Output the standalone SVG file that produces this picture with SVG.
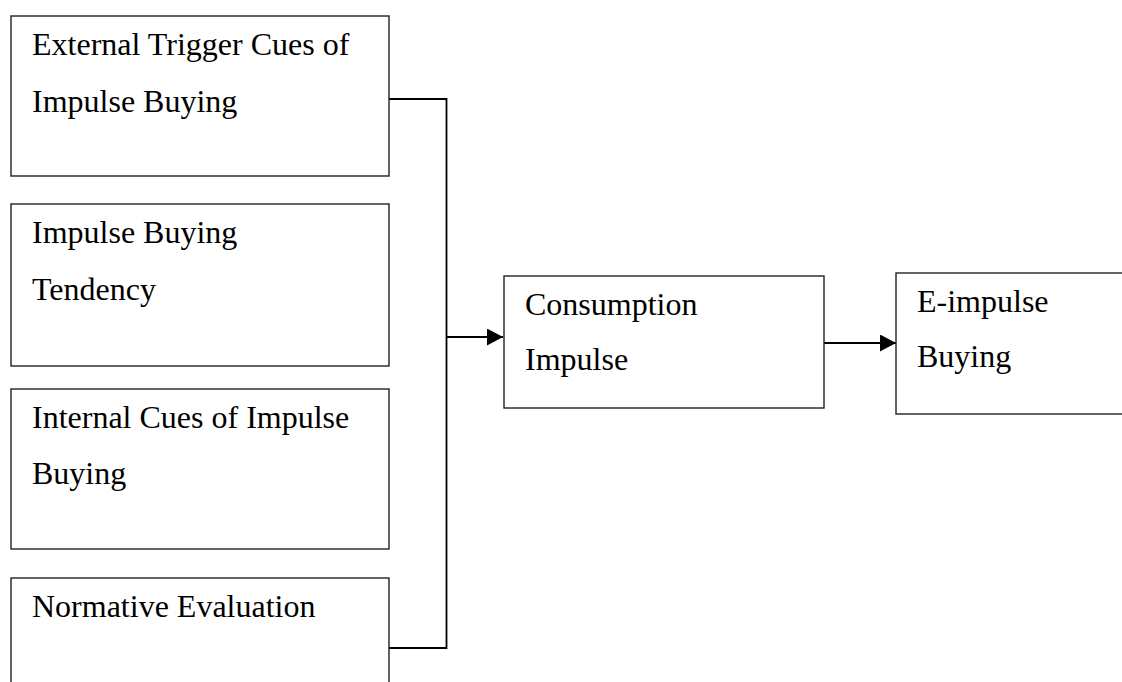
<svg xmlns="http://www.w3.org/2000/svg" width="1122" height="682" viewBox="0 0 1122 682">
<style>
.box{fill:#fff;stroke:#222;stroke-width:1.4}
.t{font-family:"Liberation Serif","Times New Roman",serif;font-size:32px;fill:#000}
.c{fill:none;stroke:#000;stroke-width:1.8}
</style>
<defs>
<marker id="ah" markerWidth="17" markerHeight="17" refX="16" refY="8.5" orient="auto" markerUnits="userSpaceOnUse">
<path d="M0,0 L16,8.5 L0,17 Z" fill="#000"/>
</marker>
</defs>
<rect width="1122" height="682" fill="#fff"/>
<g id="connectors">
<polyline class="c" points="389,99 446.5,99 446.5,648 389,648"/>
<line class="c" x1="446.5" y1="337" x2="503" y2="337" marker-end="url(#ah)"/>
<line class="c" x1="824" y1="343" x2="896" y2="343" stroke-width="2.2" marker-end="url(#ah)"/>
</g>
<g id="n1">
<rect class="box" x="11" y="16" width="378" height="160"/>
<text class="t" x="32" y="55">External Trigger Cues of</text>
<text class="t" x="32" y="112">Impulse Buying</text>
</g>
<g id="n2">
<rect class="box" x="11" y="204" width="378" height="162"/>
<text class="t" x="32" y="243">Impulse Buying</text>
<text class="t" x="32" y="300">Tendency</text>
</g>
<g id="n3">
<rect class="box" x="11" y="389" width="378" height="160"/>
<text class="t" x="32" y="428">Internal Cues of Impulse</text>
<text class="t" x="32" y="484">Buying</text>
</g>
<g id="n4">
<rect class="box" x="11" y="578" width="378" height="130"/>
<text class="t" x="32" y="617">Normative Evaluation</text>
</g>
<g id="n5">
<rect class="box" x="504" y="276" width="320" height="132"/>
<text class="t" x="525" y="315">Consumption</text>
<text class="t" x="525" y="370">Impulse</text>
</g>
<g id="n6">
<rect class="box" x="896" y="273" width="240" height="141"/>
<text class="t" x="917" y="312">E-impulse</text>
<text class="t" x="917" y="367">Buying</text>
</g>
</svg>
